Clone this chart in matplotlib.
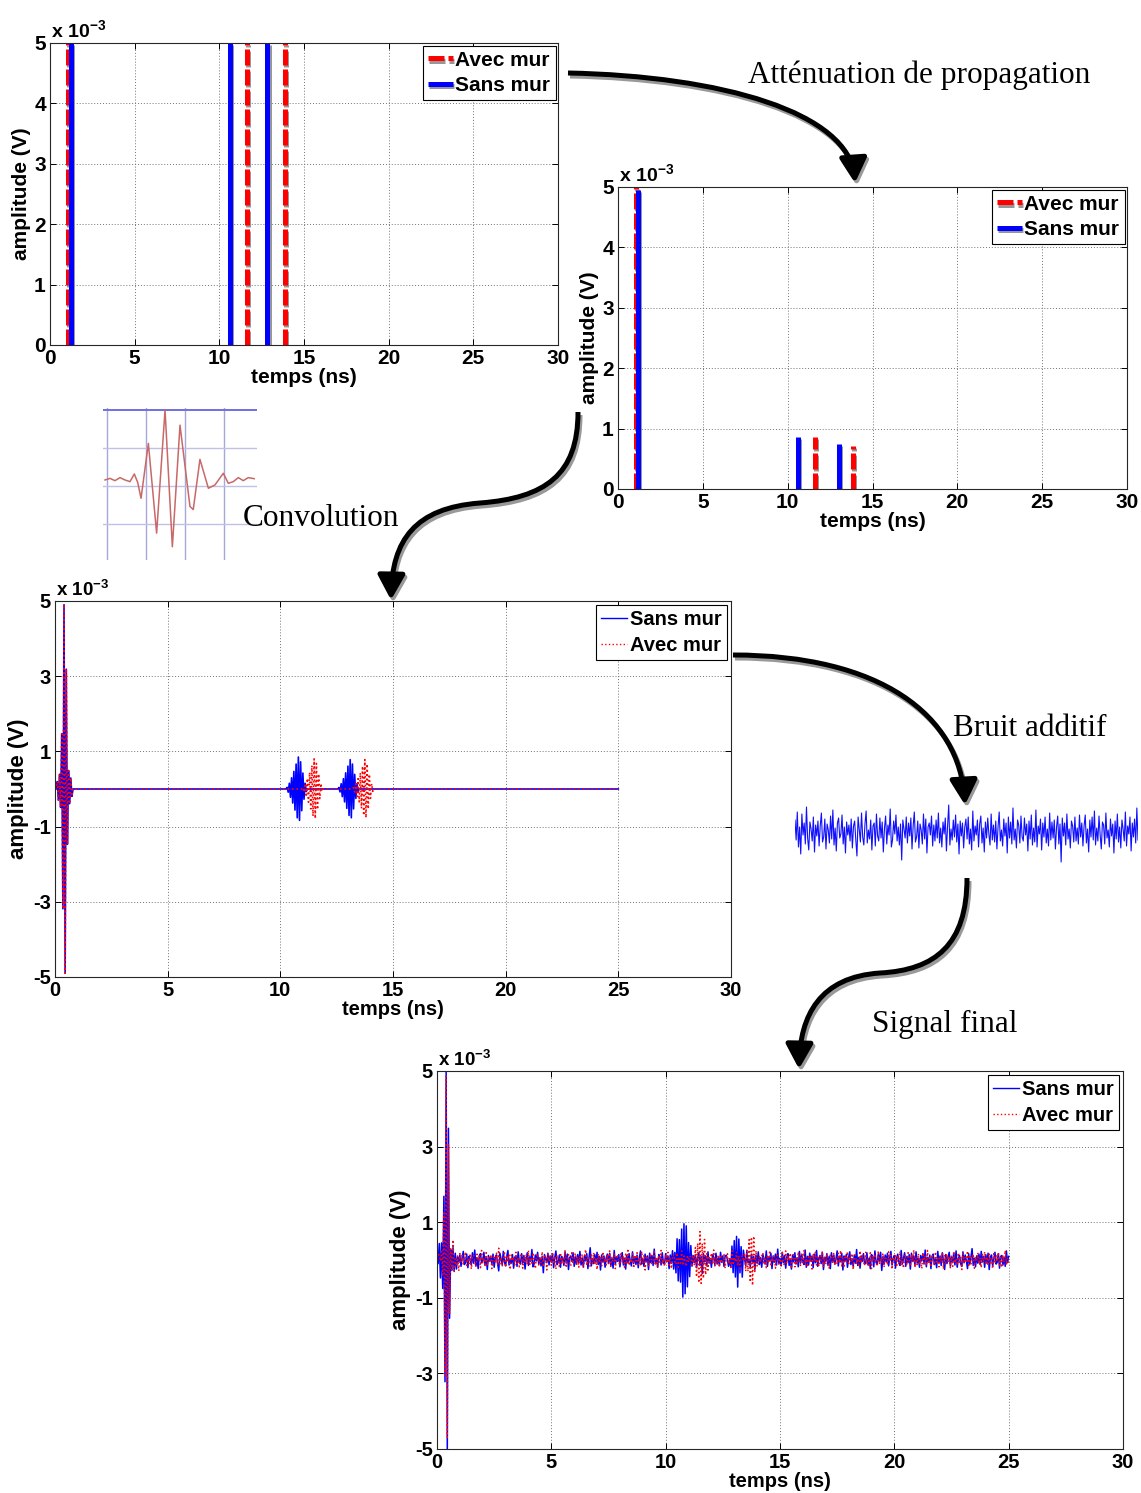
import numpy as np
import matplotlib
matplotlib.use('Agg')
import matplotlib.pyplot as plt
from matplotlib.path import Path
from matplotlib.patches import FancyArrowPatch
import matplotlib.patheffects as pe
from matplotlib.lines import Line2D

# ---------------- data (amplitudes in units of 1e-3 V, time in ns) ----------------
# Panel 1: impulse responses (before attenuation)
p1_sans_t = [1.22, 10.65, 12.84]
p1_sans_a = [5.0, 5.0, 5.0]
p1_avec_t = [1.07, 11.64, 13.89]
p1_avec_a = [5.0, 5.0, 5.0]

# Panel 2: after propagation attenuation
p2_sans_t = [1.18, 10.63, 13.0]
p2_sans_a = [4.95, 0.86, 0.75]
p2_avec_t = [1.05, 11.6, 13.86]
p2_avec_a = [5.0, 0.86, 0.72]

# Small wavelet sketch (inset)
inset_t = [-0.013, 0.019, 0.051, 0.083, 0.115, 0.147, 0.175, 0.197, 0.218, 0.265,
           0.318, 0.372, 0.419, 0.468, 0.532, 0.553, 0.596, 0.65, 0.692, 0.746,
           0.778, 0.81, 0.842, 0.874, 0.906, 0.944]
inset_a = [0.079, 0.10, 0.07, 0.11, 0.079, 0.057, 0.158, 0.044, -0.162, 0.56,
           -0.62, 1.0, -0.80, 0.80, -0.27, -0.31, 0.35, -0.03, 0.013, 0.167,
           0.035, 0.057, 0.11, 0.07, 0.11, 0.096]

# Panel 3: convolution result
dt = 0.05
conv_sans_t = [0.4, 10.8, 13.1]
conv_sans_a = [4.9, 0.85, 0.78]
conv_avec_t = [0.4, 11.5, 13.75]
conv_avec_a = [4.9, 0.80, 0.78]
direct_wavelet = [0.04, -0.06, 0.08, -0.1, 0.3, -0.65, 1.0, -1.0, 0.65, -0.3, 0.1, -0.08, 0.06, -0.04]
direct_peak = 6
echo_wavelet = [0.05, -0.1, 0.18, -0.26, 0.35, -0.44, 0.55, -0.66, 0.78, -0.9, 1.0, -0.98,
                0.85, -0.68, 0.5, -0.32, 0.18, -0.08]
echo_peak = 10

# Additive noise (integer counts, one count = 1.2e-5 V), sampled every dt
noise_unit = 0.012
noise_sans = [
    12, -8, 20, -15, 5, -22, 18, -3, 9, -12, 25, -6, -18, 10, 3, -9, 15, -20, 7, -4, 11, -14, 6, 19, -10,
    -5, 13, -17, 8, 2, -11, 16, -7, 22, -13, 4, -19, 9, 14, -6, -2, 17, -12, 5, -21, 10, -3, 7, -9, 13,
    -16, 6, 11, -8, -24, 15, 3, -10, 19, -5, -13, 8, 21, -11, 2, -7, 12, -18, 6, 9, -14, 18, -4, -9, 14,
    -6, 10, -20, 4, 16, -12, 7, -3, 23, -15, -8, 11, -2, 17, -9, 5, -13, 8, -28, 12, 3, -6, 15, -11, 9,
    -4, 14, -17, 6, 20, -10, -5, 11, -16, 8, 2, -12, 18, -7, 13, -21, 5, 9, -3, 16, -14, 7, -9, 12, -6,
    19, -11, 4, -15, 10, -2, 14, -19, 6, 27, -13, 3, -8, 12, -5, 17, -10, 8, -22, 11, -4, 9, -16, 5, 13,
    -7, 15, -12, 3, -18, 21, -9, 6, -3, 12, -15, 8, 16, -11, 4, -20, 10, -6, 14, -2, -13, 18, -8, 7, -10,
    11, -17, 5, 20, -9, 2, -14, 13, -4, 9, -21, 15, -6, 10, -12, 24, -8, 3, -16, 12, 7, -11, 16, -5, -9,
    14, -3, 8, -19, 11, -7, 17, -13, 4, -10, 22, -15, 6, -2, 13, -18, 9, -5, 15, -11, 3, -14, 19, -8, 10,
    -6, 12, -17, 5, 16, -12, 8, -30, 14, -4, 9, -13, 18, -7, 3, -16, 11, 6, -10, 15, -9, 4, -12, 17, -5,
    9, -14, 6, 17, -11, 3, -20, 12, -5, 15, -8, 21, -13, 4, -9, 16, -3, -17, 10, 7, -12, 19, -6, 2, -15,
    13, -4, 8, -21, 11, -7, 18, -10, 5, -16, 12, 3, -9, 20, -14, 6, -2, 15, -19, 9, -5, 13, -11, 24, -8,
    4, -13, 17, -6, 10, -18, 7, 14, -12, 2, -20, 11, -4, 16, -9, 5, -15, 19, -7, 12, -3, -10, 22, -16, 8,
    -11, 15, -2, 9, -17, 13, -6, 21, -14, 4, 10, -8, 17, -21, 6, -3, 14, -12, 8, -19, 16, -5, 11, -9, 3,
    20, -13, 7, -4, 15, -22, 9, -1, 12, -16, 5, 18, -10, 3, -14, 11, -7, 23, -12, 6, -18, 9, -3, 14, -8,
    -6, 16, -11, 4, -19, 12, 8, -15, 20, -5, -10, 13, -2, 17, -23, 7, -9, 11, -4, 15, -13, 6, 19, -11, 2,
    10, -18, 5, 13, -7, -12, 21, -9, 3, 16, -14, 8, -6, 12, -20, 15, -3, 9, -11, 18, -7, 4, -16, 10, -2,
    14, -9, 22, -15, 6, -4, 11, -19, 7, 13, -10, 2, -17, 19, -6, 9, -12, 16, -3, -21, 12, -8, 5, 17, -13,
    7, -5, 15, -11, 20, -16, 3, 10, -8, -14, 18, -6, 11, -2, -19, 14, -9, 6, 25, -12, 4, -15, 9, -7, 13,
    -10, 19, -4, 8, -16, 12, -7, 15, -21, 5, 11, -13, 3, 17, -9, -5, 14, -18, 8, 10, -11, 6, -14, 20, -6,
    8]
noise_avec = [
    -10, 15, -6, 22, -14, 8, -19, 12, -3, 17, -9, 4, -16, 11, 20, -7, 2, -13, 9, -24, 14, -5, 10, -11, 6,
    18, -12, 3, -8, 14, -20, 7, 11, -4, -15, 13, -2, 9, -17, 21, -6, 5, -10, 16, -13, 8, -3, 12, -19, 4,
    10, -7, 15, -11, 26, -9, 6, -14, 2, 19, -16, 8, -5, 13, -21, 11, -2, 7, -12, 17, -8, 3, -15, 10, 14,
    -18, 6, -4, 12, -10, 21, -13, 5, -7, 16, -2, -19, 9, 14, -11, 4, -6, 18, -15, 7, 10, -22, 13, -3, 8,
    -12, 17, -5, 9, -20, 11, 3, -14, 16, -8, 6, -10, 22, -17, 4, 12, -6, -13, 19, -9, 2, 15, -11, 7, -16,
    10, -4, 13, -18, 6, 23, -12, 8, -2, -15, 11, -7, 16, -10, 5, -21, 14, -3, 9, -13, 18, -6, 4, -11, 12,
    -8, 20, -14, 6, -3, 15, -19, 9, 12, -6, -11, 17, -4, 8, -16, 13, -9, 25, -12, 3, -7, 14, -18, 10, -2,
    16, -10, 5, -13, 19, -7, 11, -22, 6, 9, -15, 3, 14, -8, -4, 18, -12, 7, -17, 10, -5, 21, -9, 2, -14,
    12, -6, 17, -11, 4, -19, 8, 13, -3, -10, 15, -16, 6, -7, 20, -12, 9, -2, -14, 11, -8, 16, -5, 3, -13,
    18, -9, 7, -15, 10, -4, 14, -20, 5, 12, -11, 2, -17, 9, -6, 15, -10, 22, -13, 4, -8, 11, -16, 7, -3,
    -7, 12, -18, 5, 14, -9, 3, -16, 20, -11, 6, -4, 17, -13, 9, -22, 11, -2, 15, -8, 4, -14, 18, -6, 10,
    -15, 8, -3, 19, -12, 6, -20, 13, -5, 9, 16, -10, 2, -17, 11, -7, 21, -14, 5, -4, 12, -18, 8, 14, -9,
    3, -11, 16, -6, -13, 20, -8, 10, -2, 15, -19, 7, 12, -15, 4, -9, 18, -5, -12, 13, -6, 22, -10, 3, -16,
    11, -5, 8, -20, 14, -3, 17, -11, 6, -14, 9, -1, 19, -16, 7, -10, 13, -4, -18, 12, 5, -8, 16, -12, 2,
    -9, 15, -6, 21, -13, 4, -17, 10, -3, 18, -11, 8, -5, 14, -21, 6, 11, -9, 3, -15, 20, -7, 12, -2, -13,
    17, -8, 4, -12, 16, -19, 9, -3, 13, -6, -14, 20, -10, 5, -7, 15, -16, 8, 2, -11, 18, -4, 10, -20, 7,
    -3, 13, -15, 9, -6, 19, -12, 4, -18, 11, 7, -9, 16, -2, -14, 12, -5, 22, -17, 6, -10, 14, -7, 3, -19,
    15, -6, 10, -13, 21, -9, 5, -16, 12, -2, -11, 18, -8, 4, -15, 9, -4, 17, -20, 11, -6, 13, -3, 8, -17,
    10, -14, 19, -7, 3, -12, 16, -5, 9, -21, 14, -8, 6, -3, 20, -15, 11, -10, 4, 13, -18, 7, -2, 16, -9,
    5, -17, 12, -4, 18, -10, 7, -13, 15, -6, 2, -19, 14, -8, 11, -3, 17, -12, 6, -16, 9, -5, 21, -11, 4,
    -6]

x_ticks = [0, 5, 10, 15, 20, 25, 30]
y_ticks_pos = [0, 1, 2, 3, 4, 5]
y_ticks_sym = [-5, -3, -1, 1, 3, 5]

# ---------------- helpers ----------------
W, H = 1141, 1493
plt.rcParams['axes.unicode_minus'] = False
plt.rcParams['font.family'] = ['Liberation Sans', 'DejaVu Sans']
plt.rcParams['font.weight'] = 'bold'
plt.rcParams['mathtext.fontset'] = 'custom'
plt.rcParams['mathtext.rm'] = 'Liberation Sans:bold'
plt.rcParams['mathtext.bf'] = 'Liberation Sans:bold'

SERIF = 'Liberation Serif'

fig = plt.figure(figsize=(W / 100, H / 100), dpi=100)
fig.patch.set_facecolor('white')


def px_axes(l, t, r, b, **kw):
    return fig.add_axes([l / W, 1 - b / H, (r - l) / W, (b - t) / H], **kw)


def style(ax, fs, yticks, ylim, ylabel_fs=None, ylabelpad=2):
    ax.set_xlim(0, 30)
    ax.set_xticks(x_ticks)
    ax.set_ylim(*ylim)
    ax.set_yticks(yticks)
    ax.grid(True, color='0.45', linestyle=(0, (1, 2)), lw=0.7)
    ax.set_axisbelow(True)
    ax.tick_params(direction='in', length=4, width=0.7, top=True, right=True,
                   labelsize=fs, pad=3)
    for s in ax.spines.values():
        s.set_linewidth(0.8)
        s.set_color('0.15')
    ax.set_xlabel('temps (ns)', fontsize=fs, fontweight='bold', labelpad=0)
    ax.set_ylabel('amplitude (V)', fontsize=ylabel_fs or fs, fontweight='bold', labelpad=ylabelpad)
    ax.annotate(r'x 10$^{\mathbf{-3}}$', xy=(0, 1), xycoords='axes fraction', xytext=(1, 0.5),
                textcoords='offset points', ha='left', va='bottom', fontsize=fs - 1,
                fontweight='bold')


shadow = [pe.SimpleLineShadow(offset=(0.8, -1.6), shadow_color='0.55', alpha=0.9), pe.Normal()]


def impulse_panel(ax, st, sa, at, aa):
    for t, a in zip(at, aa):
        ax.plot([t, t], [0, a], color='#ff0000', lw=3.6, linestyle=(0, (3.2, 0.8)),
                solid_capstyle='butt', dash_capstyle='butt', path_effects=shadow)
    for t, a in zip(st, sa):
        ax.plot([t, t], [0, a], color='#0000ff', lw=3.6, solid_capstyle='butt', path_effects=shadow)
    h_avec = Line2D([], [], color='#ff0000', lw=3.6, linestyle=(0, (3.2, 0.8)),
                    dash_capstyle='butt', path_effects=shadow)
    h_sans = Line2D([], [], color='#0000ff', lw=3.6, solid_capstyle='butt', path_effects=shadow)
    leg = ax.legend([h_avec, h_sans], ['Avec mur', 'Sans mur'], loc='upper right', fontsize=15,
                    fancybox=False, edgecolor='black', framealpha=1, borderaxespad=0.12,
                    handlelength=1.2, handletextpad=0.1, borderpad=0.25, labelspacing=0.3)
    leg.get_frame().set_linewidth(0.8)


# ---------------- panel 1 ----------------
ax1 = px_axes(50, 43, 558, 345)
style(ax1, 15, y_ticks_pos, (0, 5))
impulse_panel(ax1, p1_sans_t, p1_sans_a, p1_avec_t, p1_avec_a)

# ---------------- panel 2 ----------------
ax2 = px_axes(618, 187, 1127, 489)
style(ax2, 15, y_ticks_pos, (0, 5))
impulse_panel(ax2, p2_sans_t, p2_sans_a, p2_avec_t, p2_avec_a)

# ---------------- signals ----------------
n = min(len(noise_sans), len(noise_avec))
t = np.arange(n) * dt


def convolve(times, amps):
    direct = np.zeros(n)
    echo = np.zeros(n)
    for k, (tt, aa) in enumerate(zip(times, amps)):
        idx = int(round(tt / dt))
        if k == 0:
            direct[idx] += aa
        else:
            echo[idx] += aa
    s = np.convolve(direct, direct_wavelet)[direct_peak:direct_peak + n]
    s = s + np.convolve(echo, echo_wavelet)[echo_peak:echo_peak + n]
    return s


conv_sans = convolve(conv_sans_t, conv_sans_a)
conv_avec = convolve(conv_avec_t, conv_avec_a)
final_sans = conv_sans + np.array(noise_sans[:n]) * noise_unit
final_avec = conv_avec + np.array(noise_avec[:n]) * noise_unit

FS34 = 14.5


def signal_legend(ax):
    leg = ax.legend(loc='upper right', fontsize=FS34,
                    fancybox=False, edgecolor='black', framealpha=1, borderaxespad=0.2,
                    handlelength=1.3, handletextpad=0.15, borderpad=0.25, labelspacing=0.35)
    leg.get_frame().set_linewidth(0.8)
    for h in leg.get_lines():
        h.set_linewidth(1.0)


# ---------------- panel 3 ----------------
ax3 = px_axes(55, 601, 731, 977)
style(ax3, FS34, y_ticks_sym, (-5, 5), ylabel_fs=16, ylabelpad=3)
ax3.plot(t, conv_sans, color='#0000ff', lw=1.2, label='Sans mur')
ax3.plot(t, conv_avec, color='#ff0000', lw=1.2, linestyle=':', label='Avec mur')
signal_legend(ax3)

# ---------------- panel 4 ----------------
ax4 = px_axes(437, 1071, 1123, 1449)
style(ax4, FS34, y_ticks_sym, (-5, 5), ylabel_fs=16, ylabelpad=3)
ax4.plot(t, final_sans, color='#0000ff', lw=1.1, label='Sans mur')
ax4.plot(t, final_avec, color='#ff0000', lw=1.1, linestyle=':', label='Avec mur')
signal_legend(ax4)

# ---------------- wavelet inset ----------------
axw = px_axes(103, 408, 257, 560)
axw.set_xlim(-0.026, 0.962)
axw.set_ylim(-0.974, 1.026)
for v in [0, 0.25, 0.5, 0.75]:
    axw.axvline(v, color='#a8a8d8', lw=1.0)
for v in [0.5, 0.0, -0.5]:
    axw.axhline(v, color='#c0c0e8', lw=1.0)
axw.axhline(1.0, color='#7070e0', lw=1.4)
axw.plot(inset_t, inset_a, color='#c86868', lw=1.1)
axw.axis('off')

# ---------------- noise strip (segment of the additive noise) ----------------
strip_n = 300
axn = px_axes(795, 797, 1138, 867)
axn.plot(np.arange(strip_n), np.array(noise_sans[:strip_n]) * noise_unit, color='#1010ff', lw=0.8)
axn.set_xlim(0, strip_n - 1)
axn.set_ylim(-0.42, 0.42)
axn.axis('off')

# ---------------- overlay: arrows and captions ----------------
ov = fig.add_axes([0, 0, 1, 1], zorder=20)
ov.set_xlim(0, W)
ov.set_ylim(H, 0)
ov.axis('off')
ov.patch.set_alpha(0)

M, C = Path.MOVETO, Path.CURVE4
arrows = [
    ([(568, 73), (720, 76), (850, 112), (855, 183)], [M, C, C, C]),
    ([(578, 412), (578, 475), (545, 498), (480, 503), (415, 508), (392, 540), (391, 600)],
     [M, C, C, C, C, C, C]),
    ([(733, 655), (880, 655), (960, 715), (965, 805)], [M, C, C, C]),
    ([(967, 878), (967, 945), (935, 970), (880, 973), (820, 977), (800, 1015), (799, 1069)],
     [M, C, C, C, C, C, C]),
]
for verts, codes in arrows:
    for dx, dy, col in [(2, 3, '0.6'), (0, 0, 'black')]:
        vv = [(x + dx, y + dy) for x, y in verts]
        ap = FancyArrowPatch(path=Path(vv, codes), arrowstyle='-|>,head_length=1.0,head_width=0.55',
                             mutation_scale=15, lw=3.6, color=col, capstyle='butt')
        ov.add_patch(ap)

cap_kw = dict(family=SERIF, fontsize=22.5, fontweight='normal', va='center', ha='left')
ov.text(748, 75, 'Atténuation de propagation', **cap_kw)
ov.text(243, 518, 'Convolution', **cap_kw)
ov.text(953, 729, 'Bruit additif', **cap_kw)
ov.text(872, 1024, 'Signal final', **cap_kw)

fig.savefig('out.png', dpi=100, facecolor='white')
